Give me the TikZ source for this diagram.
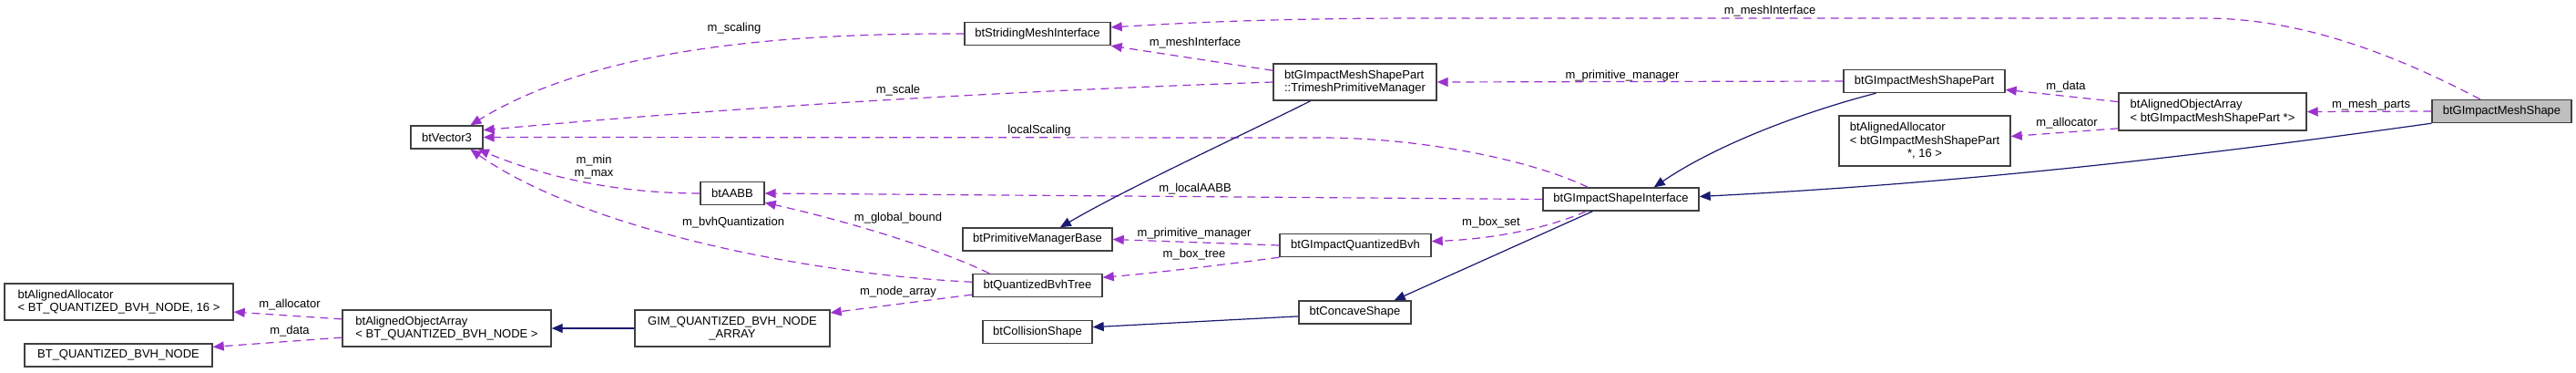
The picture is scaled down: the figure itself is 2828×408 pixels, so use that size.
\documentclass[tikz,border=0pt]{standalone}
\usepackage{fontspec}
\setmainfont{Liberation Sans}
\usetikzlibrary{arrows.meta}
\definecolor{usepurple}{HTML}{9A32CD}
\definecolor{inhnavy}{HTML}{191970}
\definecolor{curgray}{HTML}{BFBFBF}
\newcommand\dotfont{\fontsize{13}{14.5}\selectfont}

\begin{document}
\begin{tikzpicture}[
    x=1pt,y=-1pt,
    box/.style={draw=black!75,fill=white,line width=1.4pt,align=center,minimum height=25pt,inner sep=6pt,font=\dotfont},
    uses/.style={-{Triangle[length=12pt,width=10pt]},usepurple,line width=1.2pt,dash pattern=on 9pt off 6pt},
    inherits/.style={-{Triangle[length=12pt,width=10pt]},inhnavy,line width=1.2pt},
    lbl/.style={font=\dotfont,inner sep=1pt,text=black}
  ]
    \useasboundingbox (0,0) rectangle (2828,408);
    \node[box,minimum width=79pt] (vec3) at (490.5,150.5) {btVector3};
    \node[box,minimum width=160pt] (stridemesh) at (1139,37) {btStridingMeshInterface};
    \node[box,align=left,minimum width=179pt,minimum height=40pt] (trimeshmgr) at (1487.5,90) {btGImpactMeshShapePart\\::TrimeshPrimitiveManager};
    \node[box,minimum width=177pt] (meshpart) at (2112.5,89) {btGImpactMeshShapePart};
    \node[box,align=left,minimum width=206pt,minimum height=41pt] (partsarray) at (2429,122.5) {btAlignedObjectArray\\< btGImpactMeshShapePart *>};
    \node[box,align=left,minimum width=188pt,minimum height=55pt] (partsalloc) at (2113,154.5) {btAlignedAllocator\\< btGImpactMeshShapePart\\\hfill*, 16 >\hfill\null};
    \node[box,fill=curgray,minimum width=153pt] (meshshape) at (2746.5,122) {btGImpactMeshShape};
    \node[box,minimum width=171pt] (shapeiface) at (1779.5,218.5) {btGImpactShapeInterface};
    \node[box,minimum width=70pt] (aabb) at (804,212) {btAABB};
    \node[box,minimum width=164pt] (primbase) at (1139,262.5) {btPrimitiveManagerBase};
    \node[box,minimum width=166pt] (gimpbvh) at (1488,269) {btGImpactQuantizedBvh};
    \node[box,minimum width=142pt] (bvhtree) at (1139,313) {btQuantizedBvhTree};
    \node[box,minimum width=214pt,minimum height=40pt] (nodearray) at (804,360) {GIM\_QUANTIZED\_BVH\_NODE\\\_ARRAY};
    \node[box,align=left,minimum width=229pt,minimum height=40pt] (nodeobjarray) at (490.5,360) {btAlignedObjectArray\\< BT\_QUANTIZED\_BVH\_NODE >};
    \node[box,align=left,minimum width=251pt,minimum height=40pt] (nodealloc) at (130.5,331) {btAlignedAllocator\\< BT\_QUANTIZED\_BVH\_NODE, 16 >};
    \node[box,minimum width=206pt] (bvhnode) at (130,389.5) {BT\_QUANTIZED\_BVH\_NODE};
    \node[box,minimum width=123pt] (concave) at (1487.5,342.5) {btConcaveShape};
    \node[box,minimum width=120pt] (collision) at (1139,364) {btCollisionShape};

    \draw[uses] (stridemesh.west) .. controls (850,36) and (650,55) .. (vec3.27) node[lbl] at (806,31) {m\_scaling};
    \draw[uses] (trimeshmgr.west) .. controls (1100,100) and (800,118) .. (vec3.11) node[lbl] at (986,99) {m\_scale};
    \draw[uses] (shapeiface.160) .. controls (1680,175) and (1560,151) .. (1450,151) -- (vec3.east) node[lbl] at (1141,143) {localScaling};
    \draw[uses] (aabb.west) .. controls (680,212) and (600,195) .. (vec3.-21) node[lbl,align=center] at (652,183) {m\_min\\m\_max};
    \draw[uses] (bvhtree.177) .. controls (880,300) and (640,250) .. (vec3.-27) node[lbl] at (805,244) {m\_bvhQuantization};
    \draw[uses] (trimeshmgr.172) -- (stridemesh.south east) node[lbl] at (1312,47) {m\_meshInterface};
    \draw[uses] (meshshape.151) .. controls (2620,55) and (2520,20) .. (2420,20) -- (1560,20) .. controls (1400,20) and (1300,25) .. (stridemesh.5) node[lbl] at (1943,12) {m\_meshInterface};
    \draw[uses] (meshpart.west) -- (trimeshmgr.east) node[lbl] at (1781,83) {m\_primitive\_manager};
    \draw[uses] (shapeiface.west) -- (aabb.east) node[lbl] at (1312,207) {m\_localAABB};
    \draw[uses] (bvhtree.166) .. controls (1030,272) and (920,240) .. (aabb.-16) node[lbl] at (986,239) {m\_global\_bound};
    \draw[uses] (gimpbvh.west) -- (primbase.east) node[lbl] at (1311,256) {m\_primitive\_manager};
    \draw[uses] (gimpbvh.south west) .. controls (1330,292) and (1260,300) .. (bvhtree.7) node[lbl] at (1311,279) {m\_box\_tree};
    \draw[uses] (shapeiface.199) .. controls (1700,250) and (1640,262) .. (gimpbvh.3) node[lbl] at (1637,244) {m\_box\_set};
    \draw[uses] (bvhtree.188) -- (nodearray.9) node[lbl] at (986,320) {m\_node\_array};
    \draw[uses] (nodeobjarray.175) -- (nodealloc.-5) node[lbl] at (318,334) {m\_allocator};
    \draw[uses] (nodeobjarray.185) -- (bvhnode.5) node[lbl] at (318,363) {m\_data};
    \draw[uses] (partsarray.174) -- (meshpart.-6) node[lbl] at (2268,95) {m\_data};
    \draw[uses] (partsarray.190) -- (partsalloc.3) node[lbl] at (2269,135) {m\_allocator};
    \draw[uses] (meshshape.west) -- (partsarray.east) node[lbl] at (2603,115) {m\_mesh\_parts};

    \draw[inherits] (nodearray.west) -- (nodeobjarray.east);
    \draw[inherits] (trimeshmgr.203) .. controls (1360,150) and (1240,205) .. (primbase.28);
    \draw[inherits] (meshpart.194) .. controls (1990,120) and (1890,155) .. (shapeiface.20);
    \draw[inherits] (meshshape.south west) .. controls (2400,173) and (2150,201) .. (shapeiface.2);
    \draw[inherits] (shapeiface.203) -- (concave.17);
    \draw[inherits] (concave.184) -- (collision.5);
  \end{tikzpicture}
\end{document}
